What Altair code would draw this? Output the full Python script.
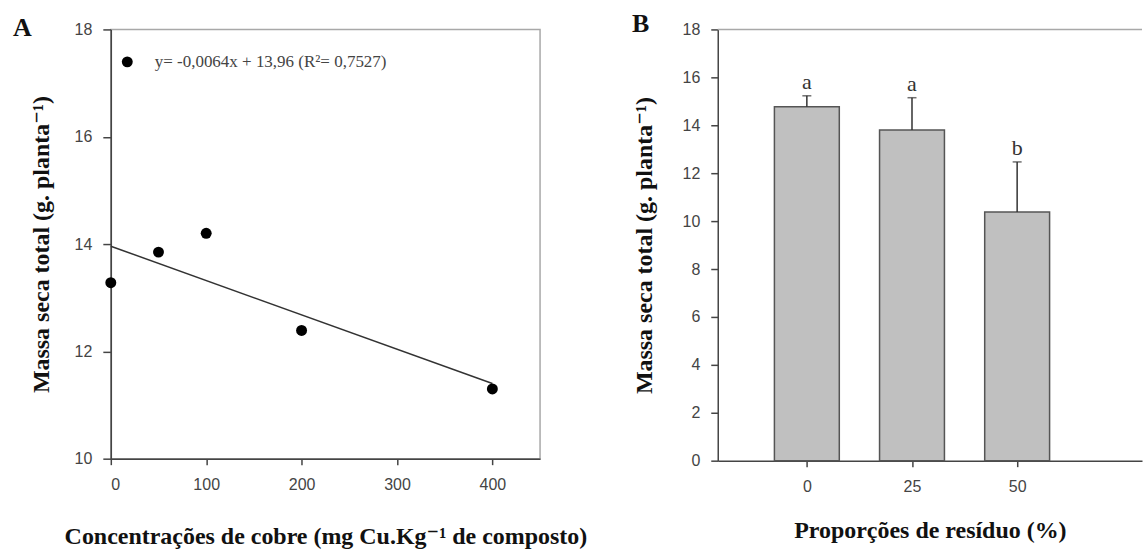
import altair as alt
import pandas as pd

# ---------------- data ----------------
cu_conc = [0, 50, 100, 200, 400]
massa_cu = [13.28, 13.85, 14.2, 12.39, 11.3]
fit_x = [0, 400]
fit_y = [13.96, 11.40]
equation = "y= -0,0064x + 13,96 (R²= 0,7527)"

prop_residuo = [0, 25, 50]
massa_res = [14.77, 13.8, 10.38]
massa_res_top = [15.23, 15.15, 12.47]
letras = ["a", "a", "b"]

A_W, A_H = 430, 430
B_W, B_H = 425, 432

serif = "Liberation Serif, DejaVu Serif, serif"
sans = "Liberation Sans, Arial, sans-serif"

df_a = pd.DataFrame({"x": cu_conc, "y": massa_cu, "serie": [equation] * len(cu_conc)})
df_fit = pd.DataFrame({"x": fit_x, "y": fit_y})
df_b = pd.DataFrame({"p": prop_residuo, "m": massa_res, "top": massa_res_top, "letra": letras})
one = pd.DataFrame({"k": [0]})

axis_common = dict(
    labelFont=sans, labelFontSize=16, labelColor="#444",
    domainColor="#444", domainWidth=1.5, tickColor="#444", tickWidth=1.5,
    grid=False, titleFont=serif, titleFontSize=24, titleFontWeight="bold",
    titleColor="#111",
)

# ---------------- panel A ----------------
xA = alt.X("x:Q", scale=alt.Scale(domain=[0, 450], nice=False, zero=False),
           axis=alt.Axis(values=[0, 100, 200, 300, 400], tickSize=6, labelPadding=12,
                         titlePadding=32,
                         title="Concentrações de cobre (mg Cu.Kg⁻¹ de composto)", **axis_common))
yA = alt.Y("y:Q", scale=alt.Scale(domain=[10, 18], nice=False, zero=False),
           axis=alt.Axis(values=[10, 12, 14, 16, 18], tickSize=8, labelPadding=11,
                         titlePadding=21, title="Massa seca total (g. planta⁻¹)", **axis_common))

pts = alt.Chart(df_a).mark_circle(size=120, opacity=1).encode(
    x=xA, y=yA,
    color=alt.Color("serie:N", scale=alt.Scale(range=["#000000"]),
                    legend=alt.Legend(orient="none", legendX=8, legendY=24, title=None,
                                      padding=0, labelFont=serif, labelFontSize=17,
                                      labelColor="#444", labelLimit=0, symbolSize=120,
                                      symbolType="circle", symbolStrokeWidth=0,
                                      labelOffset=19)),
)
fit = alt.Chart(df_fit).mark_line(color="#333", strokeWidth=1.5).encode(x=xA, y=yA)
lab_a = alt.Chart(one).mark_text(text="A", font=serif, fontSize=26, fontWeight="bold",
                                 align="left", baseline="alphabetic", color="#111").encode(
    x=alt.value(-98), y=alt.value(7))

panel_a = alt.layer(fit, pts, lab_a).properties(
    width=A_W, height=A_H,
    view=alt.ViewBackground(stroke="#a8a8a8", strokeWidth=1.5),
)

# ---------------- panel B ----------------
xB = alt.X("p:Q", scale=alt.Scale(domain=[-20, 78.5], nice=False, zero=False),
           axis=alt.Axis(values=[0, 25, 50], tickSize=6, labelPadding=12, titlePadding=24,
                         title="Proporções de resíduo (%)", **axis_common))
yB = alt.Y("m:Q", scale=alt.Scale(domain=[0, 18], nice=False),
           axis=alt.Axis(values=list(range(0, 19, 2)), tickSize=7, labelPadding=11,
                         titlePadding=26, title="Massa seca total (g. planta⁻¹)", **axis_common))

bars = alt.Chart(df_b).mark_bar(size=65, color="#c0c0c0", stroke="#555", strokeWidth=1.5).encode(
    x=xB, y=yB)
err = alt.Chart(df_b).mark_rule(color="#333", strokeWidth=1.5).encode(
    x="p:Q", y="m:Q", y2="top:Q")
cap = alt.Chart(df_b).mark_tick(orient="horizontal", size=9, thickness=1.5, color="#333").encode(
    x="p:Q", y="top:Q")
txt = alt.Chart(df_b).mark_text(font=serif, fontSize=22, baseline="bottom", dy=-2,
                                color="#333").encode(x="p:Q", y="top:Q", text="letra:N")
top_line = alt.Chart(one).mark_rule(color="#a8a8a8", strokeWidth=1.5).encode(
    x=alt.value(0), x2=alt.value(B_W), y=alt.value(0))
lab_b = alt.Chart(one).mark_text(text="B", font=serif, fontSize=26, fontWeight="bold",
                                 align="left", baseline="alphabetic", color="#111").encode(
    x=alt.value(-86), y=alt.value(3))

panel_b = alt.layer(top_line, bars, err, cap, txt, lab_b).properties(width=B_W, height=B_H)

chart = alt.hconcat(panel_a, panel_b, spacing=178, bounds="flush").properties(
    padding={"left": 12, "top": 11, "right": 0, "bottom": 0},
    background="white",
).configure_view(strokeWidth=0)

chart.save("out.html", embed_options={"renderer": "svg", "actions": False})
